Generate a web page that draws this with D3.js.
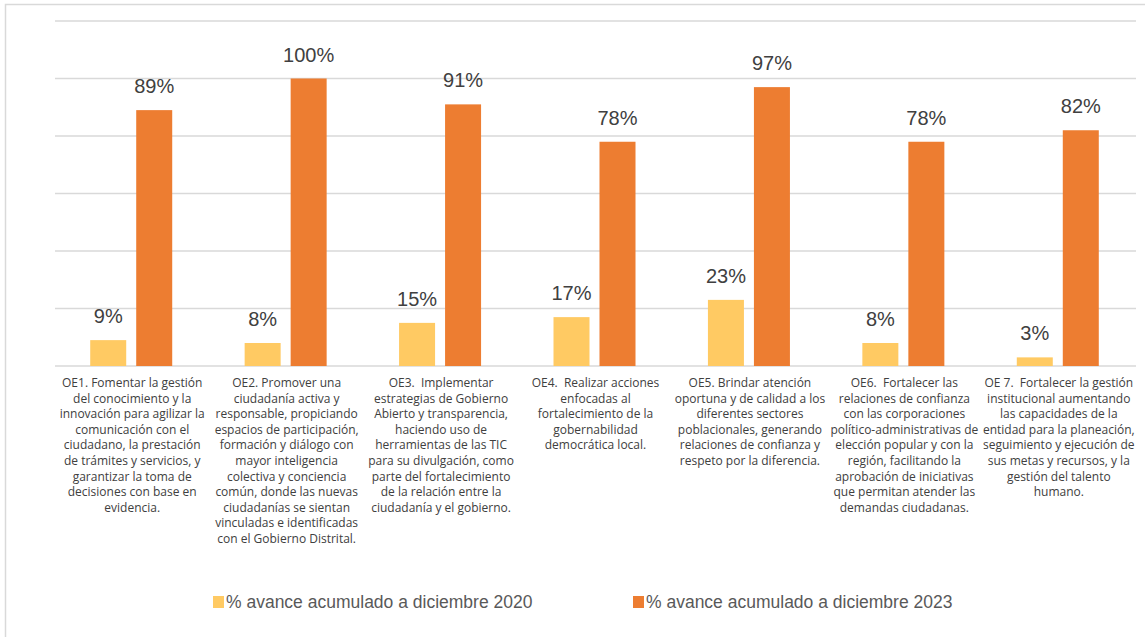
<!DOCTYPE html>
<html>
<head>
<meta charset="utf-8">
<script src="https://cdn.jsdelivr.net/npm/d3@7"></script>
<style>
  html, body { margin: 0; padding: 0; background: #fff; }
  svg { display: block; }
</style>
</head>
<body>
<svg id="chart" width="1145" height="637"></svg>
<script>
// Strategic objectives (wrapped label lines)
const categories = ["OE1", "OE2", "OE3", "OE4", "OE5", "OE6", "OE7"];
const categoryLines = [
  ["OE1. Fomentar la gestión", "del conocimiento y la", "innovación para agilizar la", "comunicación con el", "ciudadano, la prestación", "de trámites y servicios, y", "garantizar la toma de", "decisiones con base en", "evidencia."],
  ["OE2. Promover una", "ciudadanía activa y", "responsable, propiciando", "espacios de participación,", "formación y diálogo con", "mayor inteligencia", "colectiva y conciencia", "común, donde las nuevas", "ciudadanías se sientan", "vinculadas e identificadas", "con el Gobierno Distrital."],
  ["OE3.  Implementar", "estrategias de Gobierno", "Abierto y transparencia,", "haciendo uso de", "herramientas de las TIC", "para su divulgación, como", "parte del fortalecimiento", "de la relación entre la", "ciudadanía y el gobierno."],
  ["OE4.  Realizar acciones", "enfocadas al", "fortalecimiento de la", "gobernabilidad", "democrática local."],
  ["OE5. Brindar atención", "oportuna y de calidad a los", "diferentes sectores", "poblacionales, generando", "relaciones de confianza y", "respeto por la diferencia."],
  ["OE6.  Fortalecer las", "relaciones de confianza", "con las corporaciones", "político-administrativas de", "elección popular y con la", "región, facilitando la", "aprobación de iniciativas", "que permitan atender las", "demandas ciudadanas."],
  ["OE 7.  Fortalecer la gestión", "institucional aumentando", "las capacidades de la", "entidad para la planeación,", "seguimiento y ejecución de", "sus metas y recursos, y la", "gestión del talento", "humano."]
];

// Accumulated progress (%)
const avance2020 = [9, 8, 15, 17, 23, 8, 3];
const avance2023 = [89, 100, 91, 78, 97, 78, 82];

const seriesNames = ["% avance acumulado a diciembre 2020", "% avance acumulado a diciembre 2023"];
const seriesColors = ["#FFCA63", "#ED7D31"];
const gridTicks = [0, 20, 40, 60, 80, 100, 120];

const svg = d3.select("#chart");
const W = 1145, H = 637;
const margin = { left: 55, right: 9, top: 21, bottom: 271 };
const plotW = W - margin.left - margin.right;
const baseY = 366;

// chart frame: top and left edges
svg.append("path")
  .attr("d", "M5.5,637 L5.5,4.5 L1145,4.5")
  .attr("fill", "none").attr("stroke", "#d9d9d9").attr("stroke-width", 1.5);

const x0 = d3.scaleBand().domain(categories).range([margin.left, margin.left + plotW]).paddingInner(0).paddingOuter(0);
const y = d3.scaleLinear().domain([0, 120]).range([baseY, margin.top]);

// gridlines
svg.append("g").selectAll("line").data(gridTicks).join("line")
  .attr("x1", margin.left).attr("x2", margin.left + plotW)
  .attr("y1", d => y(d)).attr("y2", d => y(d))
  .attr("stroke", "#d9d9d9").attr("stroke-width", 1.5);

const barW = 36, gap = 10;
const groupW = barW * 2 + gap;

const rows = categories.map((c, i) => ({ c, i, vals: [avance2020[i], avance2023[i]] }));

const groups = svg.append("g").selectAll("g").data(rows).join("g")
  .attr("transform", d => `translate(${x0(d.c) + x0.bandwidth() / 2 - groupW / 2 - 1},0)`);

groups.selectAll("rect").data(d => d.vals.map((v, k) => ({ v, k }))).join("rect")
  .attr("x", d => d.k * (barW + gap))
  .attr("y", d => y(d.v))
  .attr("width", barW)
  .attr("height", d => baseY - y(d.v))
  .attr("fill", d => seriesColors[d.k]);

groups.selectAll("text.val").data(d => d.vals.map((v, k) => ({ v, k }))).join("text")
  .attr("class", "val")
  .attr("x", d => d.k * (barW + gap) + barW / 2)
  .attr("y", d => y(d.v) - 17)
  .attr("text-anchor", "middle")
  .attr("font-family", "Liberation Sans, Arial, sans-serif")
  .attr("font-size", 20)
  .attr("fill", "#404040")
  .text(d => d.v + "%");

// category labels
const labels = svg.append("g").selectAll("text").data(rows).join("text")
  .attr("x", d => x0(d.c) + x0.bandwidth() / 2)
  .attr("y", 387)
  .attr("text-anchor", "middle")
  .attr("font-family", "'Open Sans', Lato, sans-serif")
  .attr("font-size", 12)
  .attr("fill", "#404040")
  .style("white-space", "pre");
labels.selectAll("tspan").data(d => categoryLines[d.i]).join("tspan")
  .attr("x", function () { return d3.select(this.parentNode).attr("x"); })
  .attr("dy", (d, j) => j === 0 ? 0 : 15.6)
  .text(d => d);

// legend
const legendX = [213, 633];
const legend = svg.append("g").selectAll("g").data(seriesNames).join("g")
  .attr("transform", (d, k) => `translate(${legendX[k]},596)`);
legend.append("rect").attr("width", 11).attr("height", 12).attr("fill", (d, k) => seriesColors[k]);
legend.append("text")
  .attr("x", 13).attr("y", 12)
  .attr("font-family", "Liberation Sans, Arial, sans-serif")
  .attr("font-size", 17.5)
  .attr("fill", "#595959")
  .text(d => d);
</script>
</body>
</html>
